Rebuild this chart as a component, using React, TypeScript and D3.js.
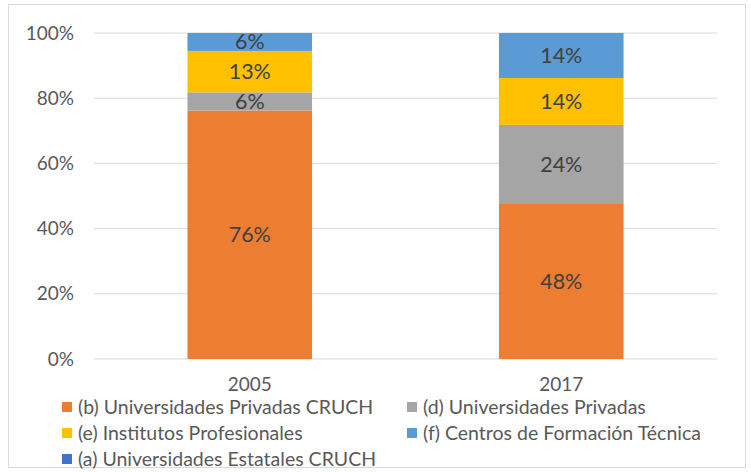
import * as d3 from 'd3';

const years = ['2005', '2017'];
const seriesNames = [
  '(b) Universidades Privadas CRUCH',
  '(d) Universidades Privadas',
  '(e) Institutos Profesionales',
  '(f) Centros de Formación Técnica',
  '(a) Universidades Estatales CRUCH',
];
const seriesColors = ['#ED7D31', '#A5A5A5', '#FFC000', '#5B9BD5', '#4472C4'];
// share per year, bottom to top: b, d, e, f, a
const privCruch = [76.2, 47.8];
const privadas = [5.6, 24.0];
const institutos = [12.7, 14.4];
const cft = [5.5, 13.8];
const estatales = [0, 0];
const yTicks = [0, 20, 40, 60, 80, 100];

const W = 751;
const H = 472;
const font = 'Lato, "Open Sans", sans-serif';

export default function App() {
  const rows = years.map((year, i) => ({
    year,
    b: privCruch[i],
    d: privadas[i],
    e: institutos[i],
    f: cft[i],
    a: estatales[i],
  }));
  const keys = ['b', 'd', 'e', 'f', 'a'];
  const stack = d3.stack<any>().keys(keys)(rows);

  const x = d3.scaleBand().domain(years).range([94, 717]).paddingInner(0.6).paddingOuter(0.3);
  const y = d3.scaleLinear().domain([0, 100]).range([359, 33]);

  const legend = [
    { i: 0, x: 62, y: 407 },
    { i: 1, x: 407, y: 407 },
    { i: 2, x: 62, y: 433 },
    { i: 3, x: 407, y: 433 },
    { i: 4, x: 62, y: 459 },
  ];

  return (
    <svg width={W} height={H} style={{ position: 'absolute', left: 0, top: 0 }} fontFamily={font}>
      <rect x={0} y={0} width={W} height={H} fill="#fff" />
      <rect x={8.5} y={4.5} width={737} height={463} fill="#fff" stroke="#d9d9d9" strokeWidth={1} />

      {/* gridlines + y labels */}
      {yTicks.map((t) => (
        <g key={t}>
          <line x1={94} x2={717} y1={y(t)} y2={y(t)} stroke="#d9d9d9" strokeWidth={1} />
          <text x={74} y={y(t)} dy="0.35em" textAnchor="end" fontSize={19} fill="#595959">
            {t}%
          </text>
        </g>
      ))}

      {/* bars */}
      {stack.map((s, si) => (
        <g key={s.key} fill={seriesColors[si]}>
          {s.map((d: any) => {
            const v = d[1] - d[0];
            if (v <= 0) return null;
            const top = y(Math.min(d[1], 100));
            const bot = y(d[0]);
            return (
              <g key={d.data.year}>
                <rect x={x(d.data.year)} y={top} width={x.bandwidth()} height={bot - top} />
                <text
                  x={(x(d.data.year) as number) + x.bandwidth() / 2}
                  y={(top + bot) / 2}
                  dy="0.35em"
                  textAnchor="middle"
                  fontSize={21.5}
                  fill="#404040"
                >
                  {Math.round(v)}%
                </text>
              </g>
            );
          })}
        </g>
      ))}

      {/* x labels */}
      {years.map((yr) => (
        <text
          key={yr}
          x={(x(yr) as number) + x.bandwidth() / 2}
          y={384}
          dy="0.35em"
          textAnchor="middle"
          fontSize={19}
          fill="#595959"
        >
          {yr}
        </text>
      ))}

      {/* legend */}
      {legend.map((l) => (
        <g key={l.i}>
          <rect x={l.x} y={l.y - 5} width={10} height={10} fill={seriesColors[l.i]} />
          <text x={l.x + 16} y={l.y} dy="0.35em" fontSize={19.5} fill="#595959">
            {seriesNames[l.i]}
          </text>
        </g>
      ))}
    </svg>
  );
}
